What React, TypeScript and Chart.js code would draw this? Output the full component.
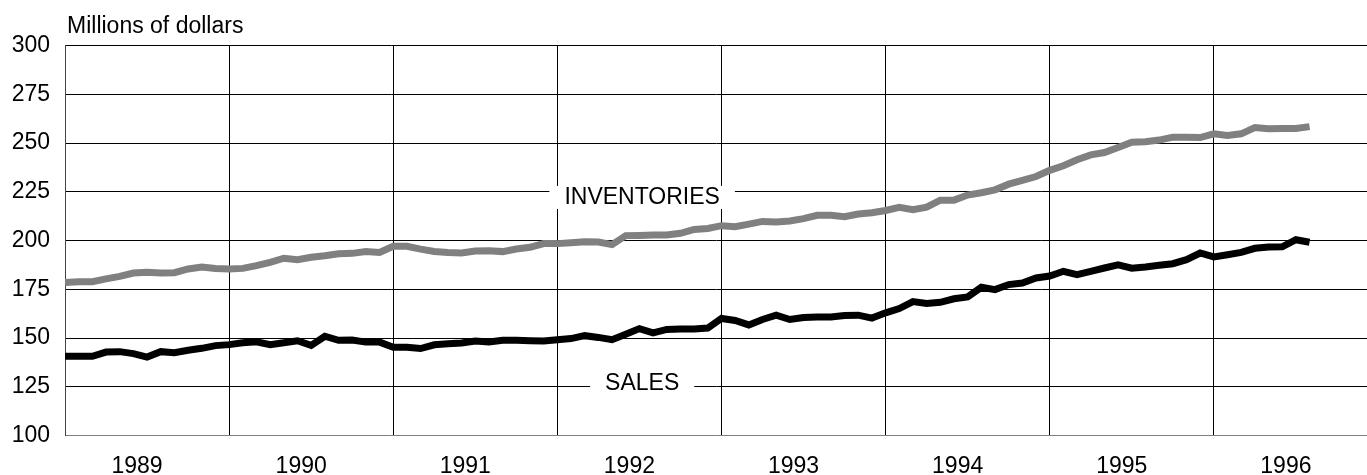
import { useEffect, useRef } from 'react';
import { Chart, registerables } from 'chart.js';

Chart.register(...registerables);

const FONT = '"Liberation Sans", Arial, Helvetica, sans-serif';

// Monthly data, Jan 1989 .. Aug 1996 (millions of dollars)
const years = ['1989', '1990', '1991', '1992', '1993', '1994', '1995', '1996'];

const inventories = [
  178.5, 178.9, 178.9, 180.3, 181.6, 183.3, 183.7, 183.3, 183.5, 185.4, 186.4, 185.6,
  185.4, 185.7, 187.1, 188.8, 190.9, 190.2, 191.4, 192.2, 193.2, 193.4, 194.4, 193.9,
  197.0, 197.0, 195.6, 194.4, 193.9, 193.6, 194.6, 194.8, 194.3, 195.6, 196.5, 198.4,
  198.4, 198.9, 199.4, 199.2, 197.9, 202.5, 202.6, 202.8, 202.8, 203.7, 205.7, 206.2,
  207.6, 207.1, 208.4, 209.8, 209.5, 210.0, 211.2, 212.9, 212.9, 212.2, 213.6, 214.2,
  215.4, 217.0, 215.8, 217.1, 220.7, 220.7, 223.3, 224.5, 226.0, 228.9, 230.8, 232.8,
  236.0, 238.3, 241.4, 243.9, 245.1, 247.7, 250.4, 250.6, 251.5, 253.0, 253.0, 252.8,
  254.7, 253.8, 254.7, 257.9, 257.3, 257.4, 257.4, 258.4,
];

const sales = [
  140.6, 140.6, 140.6, 142.8, 143.0, 142.0, 140.2, 143.0, 142.5, 143.7, 144.7, 146.1,
  146.6, 147.6, 148.1, 146.6, 147.6, 148.6, 146.2, 150.9, 148.8, 149.0, 147.9, 147.9,
  145.3, 145.3, 144.6, 146.5, 147.0, 147.4, 148.5, 148.0, 148.8, 148.8, 148.6, 148.5,
  149.1, 149.7, 151.2, 150.3, 149.1, 151.9, 154.8, 152.6, 154.4, 154.6, 154.6, 155.1,
  160.0, 159.0, 156.7, 159.5, 161.7, 159.5, 160.5, 160.8, 160.8, 161.5, 161.7, 160.2,
  162.9, 165.1, 168.7, 167.7, 168.3, 170.1, 171.1, 176.0, 174.8, 177.4, 178.2, 180.8,
  181.8, 184.2, 182.5, 184.2, 185.9, 187.5, 185.8, 186.4, 187.3, 188.1, 190.2, 193.6,
  191.6, 192.7, 193.9, 196.0, 196.7, 196.8, 200.4, 199.1,
];

const yMin = 100;
const yMax = 300;
const yStep = 25;

const seriesLabels = [
  { text: 'INVENTORIES', x: 42.2, y: 223.1 },
  { text: 'SALES', x: 42.2, y: 127.7 },
];

const unitTitle = 'Millions of dollars';

const xTickValues = years.flatMap((_, k) => [12 * k, 12 * k + 6]);

const labelsPlugin = {
  id: 'seriesLabels',
  beforeDatasetsDraw(chart: any) {
    const { ctx, scales } = chart;
    const xs = scales.x;
    const ys = scales.y;
    ctx.save();
    ctx.font = `23px ${FONT}`;
    for (const l of seriesLabels) {
      const px = xs.getPixelForValue(l.x);
      const py = ys.getPixelForValue(l.y);
      const w = ctx.measureText(l.text).width;
      ctx.fillStyle = '#ffffff';
      ctx.fillRect(px - w / 2 - 15, py - 9.5, w + 30, 23);
      ctx.fillStyle = '#000000';
      ctx.textAlign = 'center';
      ctx.textBaseline = 'alphabetic';
      ctx.fillText(l.text, px, py + 8.2);
    }
    ctx.restore();
  },
  afterDraw(chart: any) {
    const { ctx, chartArea } = chart;
    ctx.save();
    ctx.font = `23px ${FONT}`;
    ctx.fillStyle = '#000000';
    ctx.textAlign = 'left';
    ctx.textBaseline = 'alphabetic';
    ctx.fillText(unitTitle, chartArea.left + 2, chartArea.top - 13);
    ctx.restore();
  },
};

export default function App() {
  const ref = useRef<HTMLCanvasElement>(null);

  useEffect(() => {
    document.body.style.margin = '0';
    const canvas = ref.current;
    if (!canvas) return;
    const chart = new Chart(canvas, {
      type: 'line',
      data: {
        datasets: [
          {
            label: 'INVENTORIES',
            data: inventories.map((v, i) => ({ x: i, y: v })),
            borderColor: '#808080',
            borderWidth: 7,
            pointRadius: 0,
            tension: 0,
            borderJoinStyle: 'miter',
            borderCapStyle: 'butt',
            fill: false,
          },
          {
            label: 'SALES',
            data: sales.map((v, i) => ({ x: i, y: v })),
            borderColor: '#000000',
            borderWidth: 7,
            pointRadius: 0,
            tension: 0,
            borderJoinStyle: 'miter',
            borderCapStyle: 'butt',
            fill: false,
          },
        ],
      },
      options: {
        animation: false,
        responsive: false,
        layout: { padding: { top: 45.5, right: 0, left: 0, bottom: 0 } },
        plugins: {
          legend: { display: false },
          tooltip: { enabled: false },
          title: { display: false },
        },
        scales: {
          x: {
            type: 'linear',
            min: 0,
            max: 95.2,
            afterBuildTicks: (s: any) => {
              s.ticks = xTickValues.map((v) => ({ value: v }));
            },
            afterFit: (s: any) => {
              s.height = 39.5;
            },
            grid: {
              color: (ctx: any) =>
                ctx.tick && ctx.tick.value % 12 === 0 && ctx.tick.value > 0 ? '#000000' : 'rgba(0,0,0,0)',
              lineWidth: 1,
              drawTicks: false,
            },
            border: { color: '#808080', width: 1 },
            ticks: {
              autoSkip: false,
              maxRotation: 0,
              minRotation: 0,
              padding: 17,
              labelOffset: -10,
              color: '#000000',
              font: { family: FONT, size: 23 },
              callback: (v: any) => (v % 12 === 6 ? years[(v - 6) / 12] : ''),
            },
          },
          y: {
            min: yMin,
            max: yMax,
            afterFit: (s: any) => {
              s.width = 65;
            },
            grid: {
              color: (ctx: any) => (ctx.tick && ctx.tick.value === yMin ? 'rgba(0,0,0,0)' : '#000000'),
              lineWidth: 1,
              drawTicks: false,
            },
            border: { color: '#444444', width: 1 },
            ticks: {
              stepSize: yStep,
              padding: 15,
              color: '#000000',
              font: { family: FONT, size: 23 },
            },
          },
        },
      },
      plugins: [labelsPlugin],
    } as any);
    return () => chart.destroy();
  }, []);

  return (
    <div style={{ width: 1367, height: 475, background: '#ffffff' }}>
      <canvas ref={ref} width={1367} height={475} style={{ display: 'block' }} />
    </div>
  );
}
